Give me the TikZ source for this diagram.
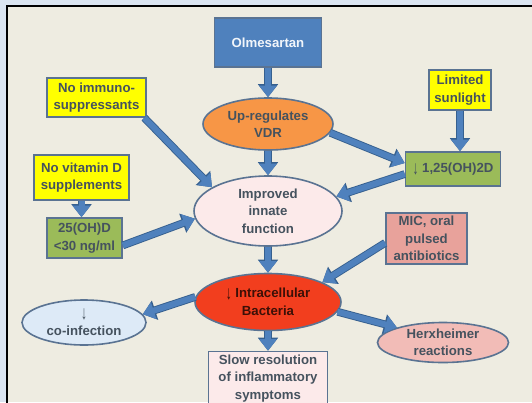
\documentclass[tikz,border=0pt]{standalone}
\usepackage{fontspec}
\setmainfont{Liberation Sans}
\usetikzlibrary{shapes.geometric,arrows.meta}

\definecolor{outerbg}{HTML}{DBE5F1}
\definecolor{innerbg}{HTML}{EEECE1}
\definecolor{edgecol}{HTML}{5A7392}
\definecolor{txtcol}{HTML}{45525E}
\definecolor{olmblue}{HTML}{4F81BD}
\definecolor{arrowblue}{HTML}{4F81BD}
\definecolor{arrowedge}{HTML}{36608F}
\definecolor{vdrorange}{HTML}{F79646}
\definecolor{boxyellow}{HTML}{FFFF00}
\definecolor{boxgreen}{HTML}{9BBB59}
\definecolor{palepink}{HTML}{FCEAEA}
\definecolor{salmon}{HTML}{E8A29B}
\definecolor{hotred}{HTML}{F23E1E}
\definecolor{herxpink}{HTML}{F2BCB7}
\definecolor{paleblue}{HTML}{DDEAF7}

% a taller, thinner down arrow for "decreased"
\newcommand\decr{\raisebox{-0.12em}{\scalebox{0.9}[1.45]{↓}}}

\tikzset{
  label font/.style={font=\bfseries\fontsize{13.2}{17.5}\selectfont},
  rbox/.style={rectangle, draw=edgecol, line width=1.6pt, label font,
    text=txtcol, align=center, inner sep=0pt},
  oval/.style={ellipse, draw=edgecol, line width=1.6pt, label font,
    text=txtcol, align=center, inner sep=0pt},
  flow/.style={line width=6pt, draw=arrowblue,
    -{Triangle[width=17pt,length=11.5pt]},
    preaction={draw=arrowedge, line width=7.8pt,
      -{Triangle[width=19.5pt,length=13pt]}}}
}

\begin{document}
\begin{tikzpicture}[x=1pt,y=-1pt]
  % page and frame
  \fill[outerbg] (0,0) rectangle (532,402);
  \useasboundingbox (0,0) rectangle (532,402);
  \fill[innerbg] (7,6) rectangle (532,402);
  \draw[black, line width=2.2pt] (7,403) -- (7,6) -- (533,6);

  % nodes
  \node[rbox, fill=olmblue, text=white!92!olmblue, minimum width=107,
        minimum height=49] (olm) at (268,42.5) {Olmesartan};
  \node[oval, fill=vdrorange, minimum width=130, minimum height=52]
        (vdr) at (268,124) {Up-regulates\\VDR};
  \node[rbox, fill=boxyellow, minimum width=99, minimum height=39]
        (noimm) at (96.5,97.5) {No immuno-\\suppressants};
  \node[rbox, fill=boxyellow, minimum width=62, minimum height=40]
        (sun) at (460,90) {Limited\\sunlight};
  \node[rbox, fill=boxyellow, minimum width=95, minimum height=45]
        (novit) at (81.5,177.5) {No vitamin D\\supplements};
  \node[rbox, fill=boxgreen, minimum width=75, minimum height=40]
        (ohd) at (84.5,238) {25(OH)D\\<30 ng/ml};
  \node[rbox, fill=boxgreen, minimum width=95, minimum height=34]
        (dihyd) at (453,169) {\decr\ 1,25(OH)2D};
  \node[oval, fill=palepink, minimum width=148, minimum height=70]
        (imp) at (268,211) {Improved\\innate\\function};
  \node[rbox, fill=salmon, minimum width=81, minimum height=51]
        (mic) at (426.5,238.5) {MIC, oral\\pulsed\\antibiotics};
  \node[oval, fill=hotred, text=black!75!hotred, minimum width=146,
        minimum height=57] (bact) at (268,302) {\decr\ Intracellular\\Bacteria};
  \node[oval, fill=paleblue, minimum width=124, minimum height=45]
        (coinf) at (84,322.5) {\decr\\co-infection};
  \node[oval, fill=herxpink, minimum width=131, minimum height=40]
        (herx) at (443,342.5) {Herxheimer\\reactions};
  \node[rbox, fill=palepink, minimum width=119, minimum height=54]
        (slow) at (268,378.5) {Slow resolution\\of inflammatory\\symptoms};

  % connectors
  \draw[flow] (olm.south) -- (vdr.north);
  \draw[flow] (noimm.-23) -- (imp.157);
  \draw[flow] (vdr.-8) -- (dihyd.173);
  \draw[flow] (sun.south) -- (sun.south |- dihyd.north);
  \draw[flow] (dihyd.186) -- (imp.12);
  \draw[flow] (vdr.south) -- (imp.north);
  \draw[flow] (novit.south) -- (novit.south |- ohd.north);
  \draw[flow] (ohd.-11) -- (imp.186);
  \draw[flow] (imp.south) -- (bact.north);
  \draw[flow] (mic.186) -- (bact.20);
  \draw[flow] (bact.176) -- (coinf.8);
  \draw[flow] (bact.-8) -- (herx.162);
  \draw[flow] (bact.south) -- (slow.north);
\end{tikzpicture}
\end{document}
